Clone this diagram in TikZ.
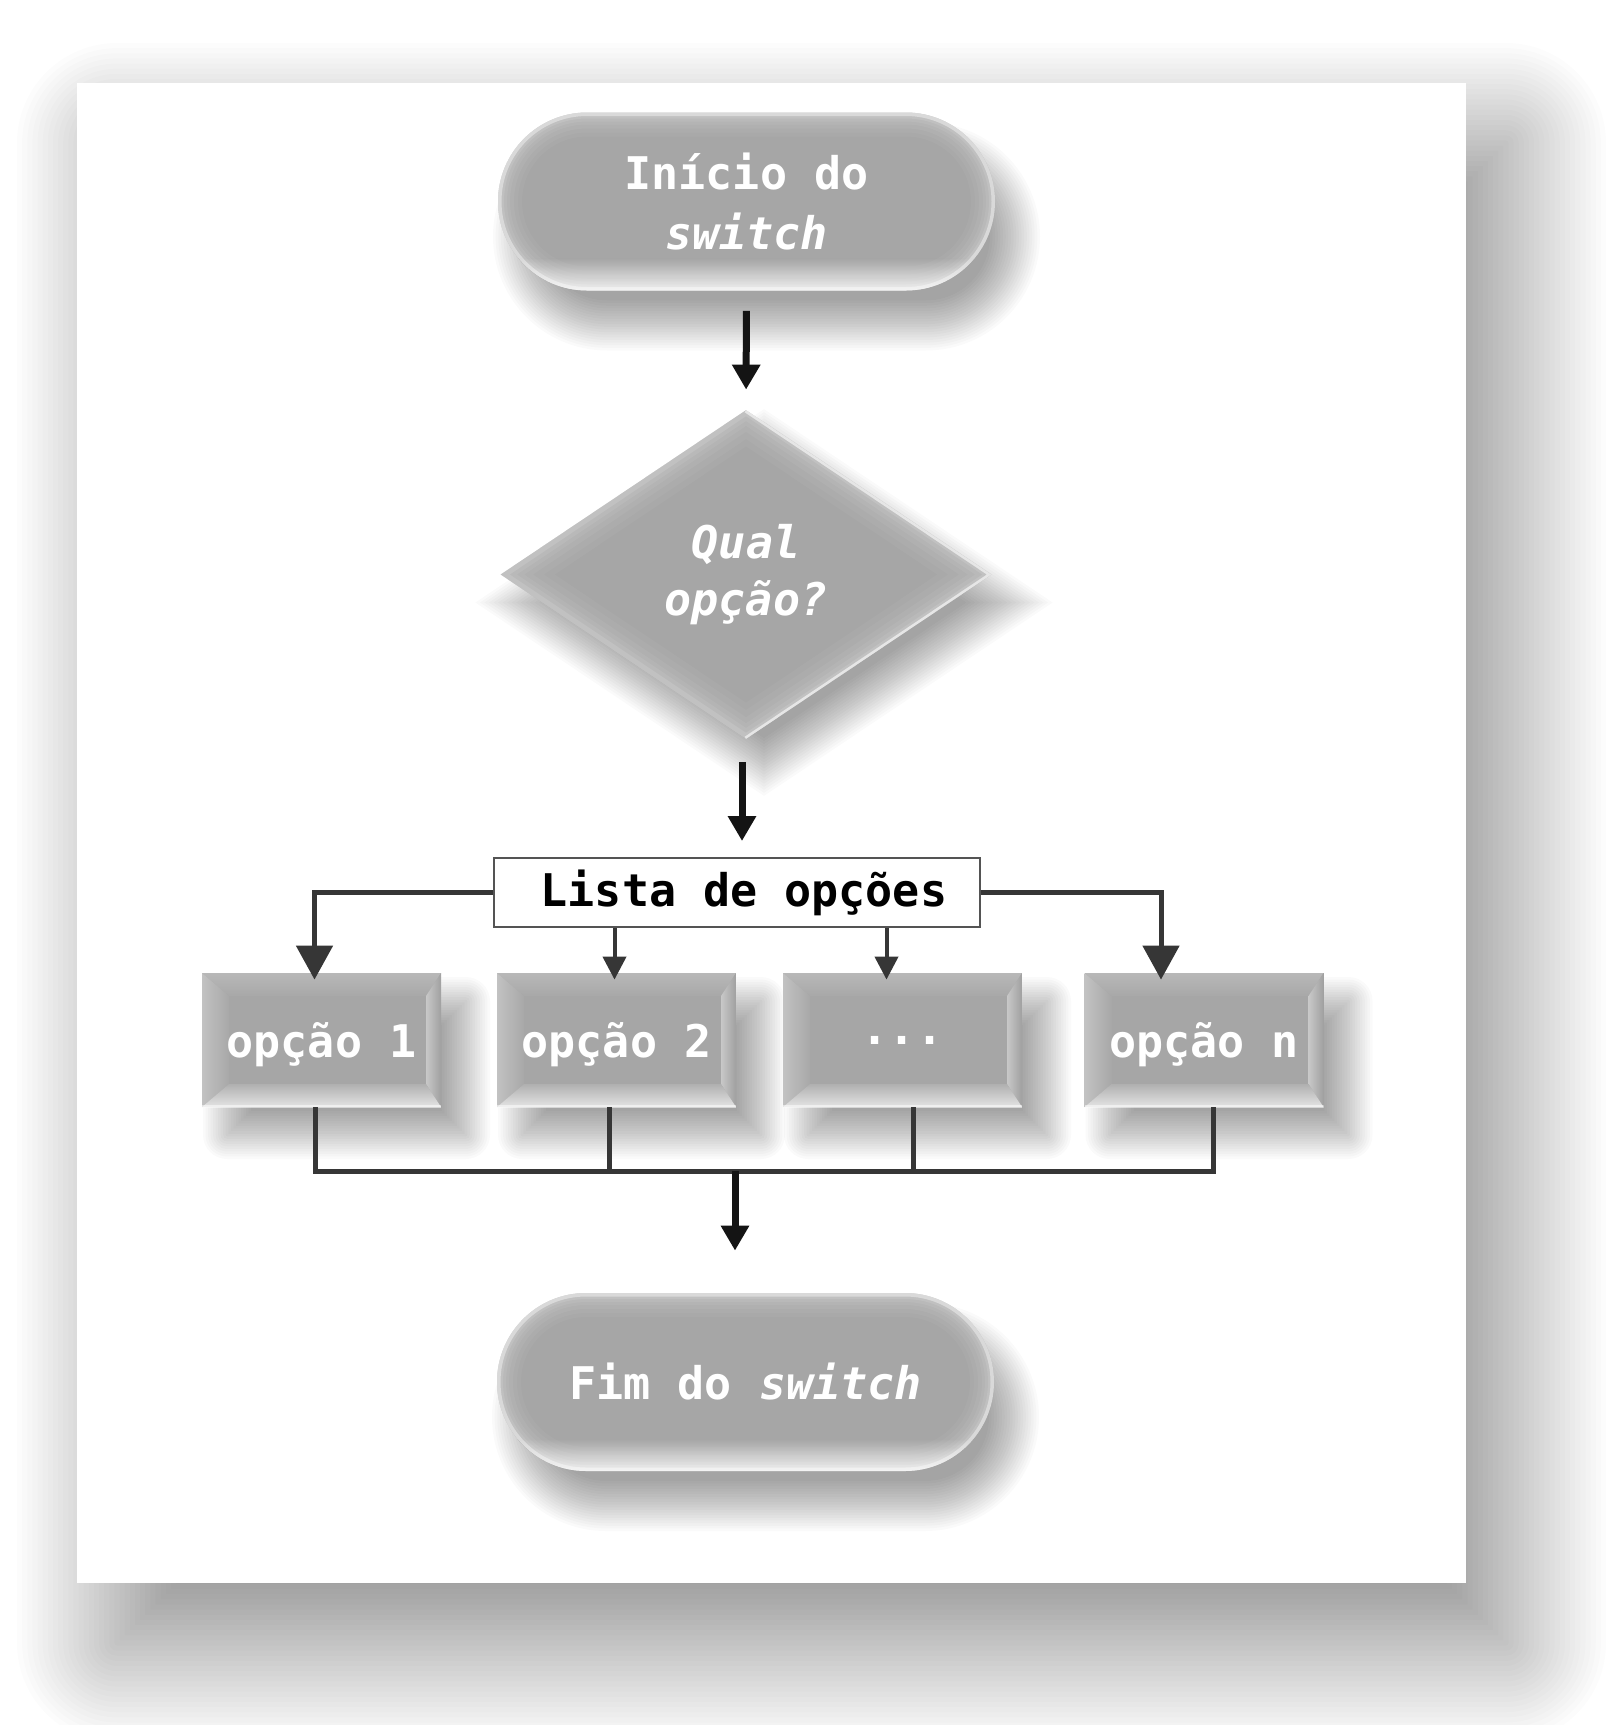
\documentclass[tikz,border=0pt]{standalone}
\usepackage{fontspec}
\setmonofont{DejaVu Sans Mono}[BoldFont={DejaVu Sans Mono Bold},ItalicFont={DejaVu Sans Mono Oblique},BoldItalicFont={DejaVu Sans Mono Bold Oblique}]
\usetikzlibrary{arrows.meta,shapes.geometric,calc}
\definecolor{face}{HTML}{A6A6A6}
\definecolor{conn}{HTML}{363636}
\definecolor{bvtopA}{HTML}{B8B8B8}
\definecolor{bvtopB}{HTML}{A8A8A8}
\definecolor{bvleftA}{HTML}{C2C2C2}
\definecolor{bvleftB}{HTML}{A8A8A8}
\definecolor{bvrightA}{HTML}{C8C8C8}
\definecolor{bvrightB}{HTML}{A0A0A0}
\definecolor{bvbotA}{HTML}{B0B0B0}
\definecolor{bvbotB}{HTML}{E4E4E4}
% soft shadow of a (rounded) rectangle: cx, cy, half width, half height, blur radius, layer opacity, corner radius, layers (all px)
\newcommand\softbox[8]{%
  \foreach \i in {1,...,#8}{%
    \pgfmathsetmacro\e{-#5+2*#5*(\i-1)/(#8-1)}%
    \pgfmathsetmacro\rc{max(#7+\e,0.1)*0.5}%
    \fill[black, fill opacity=#6, rounded corners=\rc pt] ({#1-#3-\e},{#2-#4-\e}) rectangle ({#1+#3+\e},{#2+#4+\e});
  }}
% soft shadow of a diamond: cx, cy, half width, half height, blur radius, layer opacity
\newcommand\softdia[6]{%
  \foreach \i in {1,...,20}{%
    \pgfmathsetmacro\e{-#5+2*#5*(\i-1)/19}%
    \pgfmathsetmacro\dw{#3+\e*1.796}%
    \pgfmathsetmacro\dh{#4+\e*1.203}%
    \fill[black, fill opacity=#6] ({#1},{#2-\dh}) -- ({#1+\dw},{#2}) -- ({#1},{#2+\dh}) -- ({#1-\dw},{#2}) -- cycle;
  }}
\begin{document}
\begin{tikzpicture}[x=0.5pt,y=-0.5pt,
  lbl/.style={font=\fontsize{22.5}{30}\selectfont\ttfamily\bfseries, text=white, align=center},
  term/.style={rectangle, rounded corners=44.5pt, minimum width=248.5pt, minimum height=89pt,
    inner sep=0pt, fill=face, lbl,
    path picture={
      \coordinate (tA) at (path picture bounding box.south west);
      \coordinate (tB) at (path picture bounding box.north east);
      \fill[top color=face, bottom color=white!72!face, sharp corners] ($(tA)+(0,16pt)$) rectangle (tB |- tA);
      \foreach \w/\o in {24/0.04,20/0.04,16/0.05,12/0.06,9/0.08,6/0.1,3.5/0.4}{
        \draw[white, opacity=\o, line width=\w pt, rounded corners=44.5pt] (tA) rectangle (tB);}
    }},
  dia/.style={diamond, aspect=1.49, minimum width=245.5pt, minimum height=164.5pt, inner sep=0pt,
    fill=face, lbl, font=\fontsize{22.5}{28.5}\selectfont\ttfamily\bfseries\itshape,
    path picture={
      \coordinate (dN) at (path picture bounding box.north);
      \coordinate (dS) at (path picture bounding box.south);
      \coordinate (dE) at (path picture bounding box.east);
      \coordinate (dW) at (path picture bounding box.west);
      \foreach \w/\o in {30/0.04,24/0.04,18/0.05,13/0.06,9/0.08,5/0.12}{
        \draw[white, opacity=\o, line width=\w pt, line join=miter] (dN) -- (dE) -- (dS) -- (dW) -- cycle;}
      \draw[white, opacity=0.6, line width=2.5pt] (dN) -- (dE) -- (dS);
    }},
  optbox/.style={rectangle, minimum width=119.5pt, minimum height=67pt, inner sep=0pt, fill=face, lbl,
    text depth=0pt,
    path picture={
      \coordinate (bA) at (path picture bounding box.north west);
      \coordinate (bB) at (path picture bounding box.north east);
      \coordinate (bC) at (path picture bounding box.south east);
      \coordinate (bD) at (path picture bounding box.south west);
      \coordinate (ba) at ($(bA)+(13.5pt,-11.5pt)$);
      \coordinate (bb) at ($(bB)+(-7.5pt,-11.5pt)$);
      \coordinate (bc) at ($(bC)+(-7.5pt,11.5pt)$);
      \coordinate (bd) at ($(bD)+(13.5pt,11.5pt)$);
      \shade[top color=bvtopA, bottom color=bvtopB] (bA) -- (bB) -- (bb) -- (ba) -- cycle;
      \shade[left color=bvleftA, right color=bvleftB] (bA) -- (ba) -- (bd) -- (bD) -- cycle;
      \shade[left color=bvrightA, right color=bvrightB] (bB) -- (bC) -- (bc) -- (bb) -- cycle;
      \shade[top color=bvbotA, bottom color=bvbotB] (bD) -- (bd) -- (bc) -- (bC) -- cycle;
      \draw[white, opacity=0.5, line width=2pt] (bD) -- (bC);
    }},
  cline/.style={draw=conn, line width=2.5pt},
  blk/.style={draw=black!92, line width=3.5pt, -{Triangle[width=13.5pt,length=12.5pt]}},
  bigarr/.style={cline, -{Triangle[width=18pt,length=17pt]}},
  smallarr/.style={draw=conn, line width=2pt, -{Triangle[width=11.5pt,length=11.5pt]}},
]
\useasboundingbox (0,0) rectangle (1610,1725);
\fill[white] (0,0) rectangle (1610,1725);
% panel and its shadow
\softbox{811.5}{893}{694.5}{750}{100}{0.0135}{0}{40}
\fill[white] (77,83) rectangle (1466,1583);

% node shadows
\softbox{766.5}{236.5}{248.5}{89}{25}{0.02}{89}{20}
\softdia{764}{602.5}{245.5}{164.5}{24}{0.02}
\softbox{346.5}{1068}{119.5}{67}{24}{0.02}{0}{20}
\softbox{641.5}{1068}{119.5}{67}{24}{0.02}{0}{20}
\softbox{927.5}{1068}{119.5}{67}{24}{0.02}{0}{20}
\softbox{1229}{1068}{119.5}{67}{24}{0.02}{0}{20}
\softbox{765.5}{1417}{248.5}{89}{25}{0.02}{89}{20}

% nodes
\node[term] (start) at (746.5,201.5) {Início do\\\textit{switch}};
\node[dia] (qual) at (746,574.5) {Qual\\opção?};
\node[draw=conn!85, line width=1pt, fill=white, minimum width=243pt, minimum height=34.5pt, inner sep=0pt,
  font=\fontsize{22.5}{30}\selectfont\ttfamily\bfseries, text=black] (lista) at (737,892.5) {\hspace*{7pt}Lista de opções};
\node[optbox] (opt1) at (321.5,1040) {opção 1};
\node[optbox] (opt2) at (616.5,1040) {opção 2};
\node[optbox] (opt3) at (902.5,1040) {...};
\node[optbox] (opt4) at (1204,1040) {opção n};
\node[term] (fim) at (745.5,1382) {Fim do \textit{switch}};

% connectors
\draw[blk, shorten <=10pt, shorten >=10pt] (start.south) -- (qual.north);
\draw[blk, shorten <=11.5pt, shorten >=8pt] ([xshift=-2pt]qual.south) -- ([xshift=-2pt]qual.south |- lista.north);
\draw[bigarr, shorten >=-3.5pt] (lista.west) -| ([xshift=-3.5pt]opt1.north);
\draw[smallarr, shorten >=-3.5pt] ([xshift=-1pt]opt2.north |- lista.south) -- ([xshift=-1pt]opt2.north);
\draw[smallarr, shorten >=-3.5pt] ([xshift=-8pt]opt3.north |- lista.south) -- ([xshift=-8pt]opt3.north);
\draw[bigarr, shorten >=-3.5pt] (lista.east) -| ([xshift=-21.5pt]opt4.north);

\coordinate (merge) at (735,1171);
\draw[cline] ([xshift=-3pt]opt1.south) |- (merge) -| ([xshift=4.5pt]opt4.south);
\draw[cline] ([xshift=-3.5pt]opt2.south) -- ([xshift=-3.5pt]opt2.south |- merge);
\draw[cline] ([xshift=5.5pt]opt3.south) -- ([xshift=5.5pt]opt3.south |- merge);
\draw[blk, shorten >=21pt] (merge) -- (merge |- fim.north);
\end{tikzpicture}
\end{document}
